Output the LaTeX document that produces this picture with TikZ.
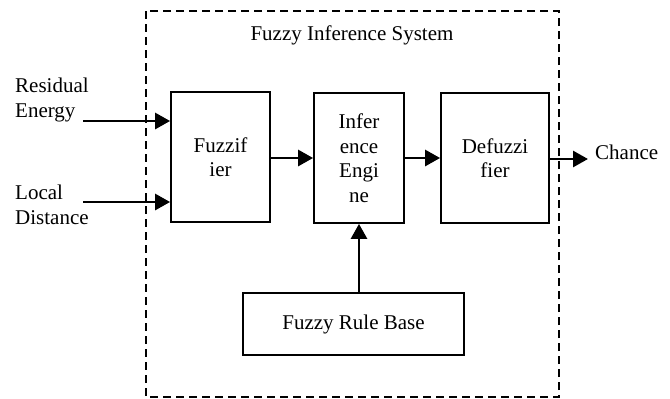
\documentclass[tikz,border=0pt]{standalone}
\usepackage{fontspec}
\setmainfont{Liberation Serif}
\usetikzlibrary{arrows}
\usetikzlibrary{arrows.meta}
\usetikzlibrary{calc}
\usetikzlibrary{positioning}
\begin{document}
\begin{tikzpicture}[x=1pt,y=-1pt,every node/.style={font=\fontsize{21}{24.5}\selectfont}]
        \tikzset{blk_node/.style = {draw,line width=1.8pt,inner sep=0pt,align=center}}
        \tikzset{sig_edge/.style = {-{Triangle[length=15pt,width=16pt]},line width=2.8pt,color=black}}
        \tikzset{lbl_node/.style = {inner sep=0pt,align=left}}
        \useasboundingbox (0,0) rectangle (670,399);

        % system frame
        \draw[dashed,dash pattern=on 8pt off 5pt,line width=1.7pt] (146,11) rectangle (559,397);
        \node[inner sep=0pt,anchor=base] (fis) at (352,40) {Fuzzy Inference System};

        % blocks
        \node[blk_node,minimum width=99pt,minimum height=130pt] (fuzz) at (220.5,157) {Fuzzif\\ier};
        \node[blk_node,minimum width=90pt,minimum height=130pt] (infer) at (359,158) {Infer\\ence\\Engi\\ne};
        \node[blk_node,minimum width=108pt,minimum height=130pt] (defuzz) at (495,158) {Defuzzi\\fier};
        \node[blk_node,minimum width=221pt,minimum height=62pt] (rules) at (353.5,324) {Fuzzy Rule Base};

        % inputs and output
        \node[lbl_node,anchor=west] (energy) at (15,100) {Residual\\Energy};
        \node[lbl_node,anchor=west] (dist) at (15,205) {Local\\Distance};
        \coordinate (energy_in) at (83,121);
        \coordinate (dist_in) at (83,202);
        \coordinate (out_end) at (588,159);
        \node[inner sep=0pt,anchor=base west] (chance) at (595,159) {Chance};

        \draw[sig_edge] (energy_in) -- (energy_in -| fuzz.west);
        \draw[sig_edge] (dist_in) -- (dist_in -| fuzz.west);
        \draw[sig_edge] (fuzz.east |- infer) -- (infer.west);
        \draw[sig_edge] (infer.east) -- (defuzz.west);
        \draw[sig_edge] (defuzz.east |- out_end) -- (out_end);
        \draw[sig_edge] (rules.north -| infer) -- (infer.south);
    \end{tikzpicture}
\end{document}
